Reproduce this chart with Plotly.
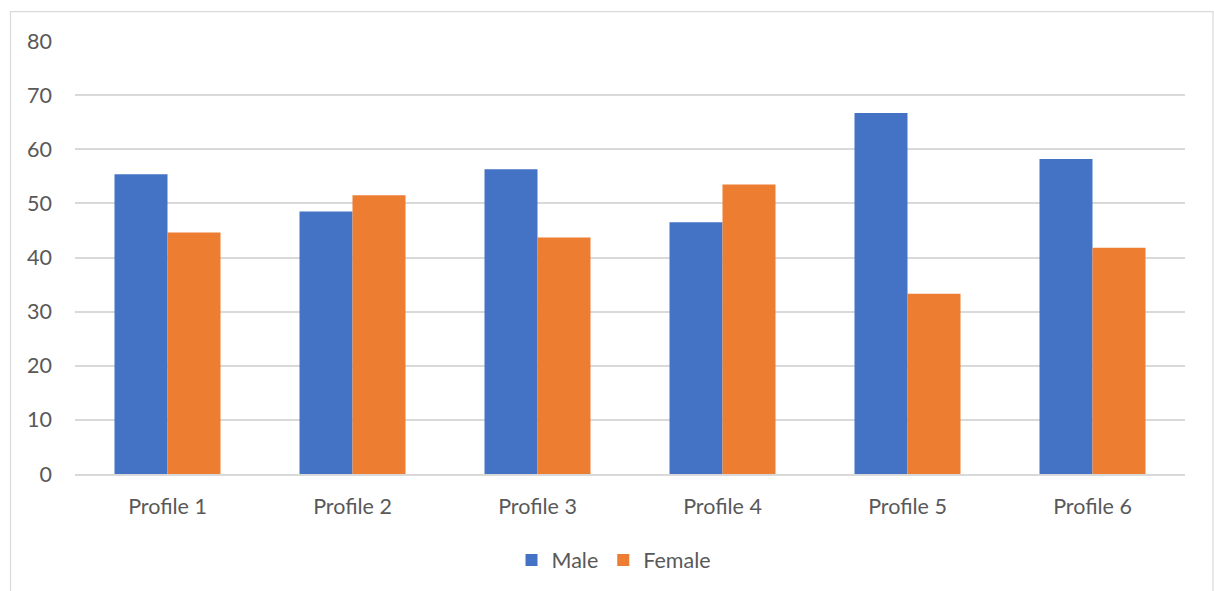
import plotly.graph_objects as go

categories = ["Profile 1", "Profile 2", "Profile 3", "Profile 4", "Profile 5", "Profile 6"]
male = [55.4, 48.5, 56.3, 46.5, 66.7, 58.2]
female = [44.6, 51.5, 43.7, 53.5, 33.3, 41.8]

W, H = 1214, 591
ML, MR, MT, MB = 75, 29, 41, 116
PW, PH = W - ML - MR, H - MT - MB

def px_x(p):
    return (p - ML) / PW

def px_y(p):
    return (H - MB - p) / PH

FONT = "Lato"
FS = 21.5
TEXT = "#595959"
GRID = "#d9d9d9"

fig = go.Figure()
fig.add_trace(go.Bar(name="Male", x=categories, y=male, marker_color="#4472C4",
                     marker_line_width=0))
fig.add_trace(go.Bar(name="Female", x=categories, y=female, marker_color="#ED7D31",
                     marker_line_width=0))

fig.update_layout(
    width=W, height=H,
    margin=dict(l=ML, r=MR, t=MT, b=MB, pad=0),
    paper_bgcolor="white", plot_bgcolor="white",
    barmode="group", bargap=0.427, bargroupgap=0,
    font=dict(family=FONT, size=FS, color=TEXT),
    showlegend=True,
    legend=dict(orientation="h", x=px_x(614), xanchor="center", y=px_y(560), yanchor="middle",
                font=dict(family=FONT, size=FS, color=TEXT), itemwidth=30,
                bgcolor="rgba(0,0,0,0)"),
    xaxis=dict(showline=True, linecolor=GRID, linewidth=1.5, ticks="",
               showgrid=False, ticklabelstandoff=12,
               tickfont=dict(family=FONT, size=FS, color=TEXT)),
    yaxis=dict(range=[0, 80], dtick=10, showgrid=True, gridcolor=GRID, gridwidth=1.5,
               zeroline=False, showline=False, ticks="", ticklabelstandoff=22,
               tickfont=dict(family=FONT, size=FS, color=TEXT)),
    shapes=[dict(type="rect", xref="paper", yref="paper",
                 x0=px_x(10.5), x1=px_x(1213), y0=px_y(600), y1=px_y(11.5),
                 line=dict(color=GRID, width=1.2), fillcolor="rgba(0,0,0,0)", layer="below")],
)

fig.write_html("out.html")
